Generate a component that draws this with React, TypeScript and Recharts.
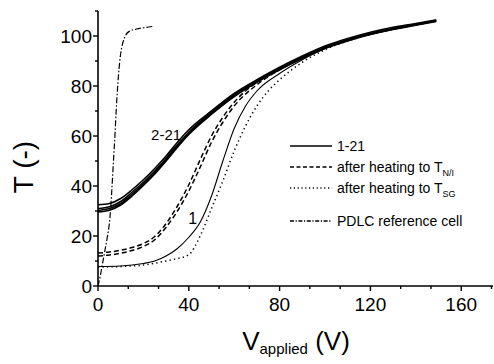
import { LineChart, Line, XAxis, YAxis, Legend, ReferenceDot } from "recharts";

const FONT = '"Liberation Sans", Arial, sans-serif';

// axis ticks
const X_MAJOR = [0, 40, 80, 120, 160];
const X_TICKS = [0, 13.33, 26.67, 40, 53.33, 66.67, 80, 93.33, 106.67, 120, 133.33, 146.67, 160, 173.33];
const Y_MAJOR = [0, 20, 40, 60, 80, 100];
const Y_TICKS = [0, 10, 20, 30, 40, 50, 60, 70, 80, 90, 100, 110];

// cycles 2-21 (bundle of curves)
const V_CYCLES = [0, 5, 10, 15, 20, 25, 30, 35, 40, 50, 60, 70, 80, 90, 100, 110, 120, 130, 140, 149];
const T_CYCLE_A = [32.5, 33, 35, 38.5, 42.5, 47, 52, 57.5, 62.5, 70, 77, 82.5, 87.5, 92, 96, 99, 101.5, 103.5, 105, 106.5];
const T_CYCLE_B = [31, 31.7, 33.8, 37.5, 41.5, 46, 51, 56.5, 61.5, 69.5, 76.5, 82, 87, 91.5, 95.5, 98.5, 101, 103, 104.7, 106.2];
const T_CYCLE_C = [30.2, 31, 33, 36.7, 40.8, 45.3, 50.5, 56, 61, 69, 76, 81.7, 86.7, 91.2, 95.2, 98.3, 100.8, 102.8, 104.5, 106];
const T_CYCLE_D = [29.6, 30.3, 32.4, 36, 40.2, 44.8, 50, 55.5, 60.6, 68.7, 75.8, 81.5, 86.5, 91, 95, 98, 100.6, 102.6, 104.3, 105.8];

// first cycle
const V_FIRST = [0, 10, 20, 25, 30, 35, 40, 45, 50, 55, 60, 65, 70, 80, 90, 100, 110, 120, 130, 140, 149];
const T_FIRST = [7.8, 8, 9, 10, 12, 15, 19.5, 25.5, 36, 50, 63, 72, 78, 85, 90.5, 95, 98.2, 100.8, 102.9, 104.6, 106];

// after heating to T_N/I (two runs)
const V_NI = [0, 5, 10, 15, 20, 25, 30, 35, 40, 45, 50, 55, 60, 70, 80, 90, 100, 110, 120, 130, 140, 149];
const T_NI_1 = [13.2, 13.6, 14.3, 15.4, 17, 19.8, 25, 32, 40.5, 50.5, 60, 67.5, 73.5, 81.5, 87, 91.5, 95.5, 98.5, 101, 103, 104.7, 106.2];
const T_NI_2 = [12, 12.4, 13.1, 14.2, 15.8, 18.5, 23.5, 30, 38, 47.5, 57.5, 65.5, 72, 80.5, 86.5, 91.2, 95.2, 98.3, 100.8, 102.8, 104.5, 106];

// after heating to T_SG
const V_SG = [0, 10, 20, 30, 35, 40, 45, 50, 55, 60, 65, 70, 75, 80, 90, 100, 110, 120, 130, 140, 149];
const T_SG = [7.6, 7.8, 8.4, 10, 11, 12.5, 20, 31, 42, 54, 64, 72, 78, 82.5, 89.5, 94.5, 98, 100.6, 102.7, 104.5, 106];

// PDLC reference cell
const V_PDLC = [0, 1, 2, 3, 4, 5, 5.5, 6, 6.5, 7, 7.5, 8, 9, 10, 11, 12, 14, 17, 20, 24];
const T_PDLC = [0, 4, 9, 14, 19, 25, 30, 37, 45, 53, 61, 70, 84, 93, 97.5, 100, 102, 102.8, 103.3, 103.8];

const toRows = (v: number[], t: number[]) => v.map((x, i) => ({ v: x, t: t[i] }));

const LEGEND_ROWS = [
  { text: "1-21", sub: "", dash: undefined as string | undefined, y: 16 },
  { text: "after heating to T", sub: "N/I", dash: "4 2.5", y: 37 },
  { text: "after heating to T", sub: "SG", dash: "1.2 2.6", y: 58 },
  { text: "PDLC reference cell", sub: "", dash: "4 1.6 1.2 1.6", y: 91 },
];

function YTick({ x, y, payload }: any) {
  const major = Y_MAJOR.includes(payload.value);
  return (
    <g>
      <line x1={x} x2={x - (major ? 5 : 3)} y1={y} y2={y} stroke="#000" strokeWidth={1.4} />
      {major && (
        <text x={x - 6} y={y + 7} textAnchor="end" fontSize={19} fontFamily={FONT} fill="#000">
          {payload.value}
        </text>
      )}
    </g>
  );
}

function XTick({ x, y, payload }: any) {
  const major = X_MAJOR.includes(payload.value);
  return (
    <g>
      <line x1={x} x2={x} y1={y} y2={y + (major ? 5 : 3)} stroke="#000" strokeWidth={1.4} />
      {major && (
        <text x={x} y={y + 25} textAnchor="middle" fontSize={19} fontFamily={FONT} fill="#000">
          {payload.value}
        </text>
      )}
    </g>
  );
}

function LegendBox() {
  return (
    <svg width={210} height={100} style={{ display: "block" }}>
      {LEGEND_ROWS.map((r, i) => (
        <g key={i}>
          <line x1={6} x2={48} y1={r.y} y2={r.y} stroke="#000" strokeWidth={1.3} strokeDasharray={r.dash} />
          <text x={53} y={r.y + 5} fontSize={14} fontFamily={FONT} fill="#000">
            {r.text}
            {r.sub && (
              <tspan fontSize={9} dy={4}>
                {r.sub}
              </tspan>
            )}
          </text>
        </g>
      ))}
    </svg>
  );
}

const YTitle = () => (
  <text
    x={23}
    y={167}
    transform="rotate(-90 23 167)"
    textAnchor="middle"
    dominantBaseline="central"
    fontSize={28}
    fontFamily={FONT}
    fill="#000"
  >
    T (-)
  </text>
);

const XTitle = () => (
  <text x={296} y={350} textAnchor="middle" fontSize={26} fontFamily={FONT} fill="#000">
    V
    <tspan fontSize={15} dy={4}>
      applied
    </tspan>
    <tspan dy={-4}> (V)</tspan>
  </text>
);

export default function App() {
  const thick = { stroke: "#000", strokeWidth: 1.6, dot: false, isAnimationActive: false, type: "monotone" as const, dataKey: "t" };
  return (
    <div style={{ position: "absolute", left: 0, top: 0, background: "#fff" }}>
      <LineChart width={494} height={364} margin={{ top: 11, right: 1, left: 0, bottom: 0 }}>
        <XAxis
          type="number"
          dataKey="v"
          domain={[0, 174]}
          ticks={X_TICKS}
          interval={0}
          allowDataOverflow
          height={78}
          tickSize={0}
          tickMargin={0}
          tick={<XTick />}
          axisLine={{ stroke: "#000", strokeWidth: 1.6 }}
          label={<XTitle />}
        />
        <YAxis
          type="number"
          domain={[0, 110]}
          ticks={Y_TICKS}
          interval={0}
          allowDataOverflow
          width={98}
          tickSize={0}
          tickMargin={0}
          tick={<YTick />}
          axisLine={{ stroke: "#000", strokeWidth: 1.6 }}
          label={<YTitle />}
        />
        <Legend
          layout="horizontal"
          verticalAlign="middle"
          align="center"
          content={<LegendBox />}
          wrapperStyle={{ left: 284, top: 130, width: 210, height: 100 }}
        />
        <Line {...thick} data={toRows(V_CYCLES, T_CYCLE_A)} />
        <Line {...thick} data={toRows(V_CYCLES, T_CYCLE_B)} />
        <Line {...thick} data={toRows(V_CYCLES, T_CYCLE_C)} />
        <Line {...thick} data={toRows(V_CYCLES, T_CYCLE_D)} />
        <Line {...thick} strokeWidth={1.1} data={toRows(V_FIRST, T_FIRST)} />
        <Line {...thick} strokeWidth={1.5} strokeDasharray="5 3" data={toRows(V_NI, T_NI_1)} />
        <Line {...thick} strokeWidth={1.5} strokeDasharray="5 3" data={toRows(V_NI, T_NI_2)} />
        <Line {...thick} strokeWidth={1.5} strokeDasharray="1.3 3.2" data={toRows(V_SG, T_SG)} />
        <Line {...thick} strokeWidth={1.2} strokeDasharray="6 2 1.5 2" data={toRows(V_PDLC, T_PDLC)} />
        <ReferenceDot
          x={30}
          y={60.4}
          r={0}
          label={{ value: "2-21", position: "center", fontSize: 15, fontFamily: FONT, fill: "#000" }}
        />
        <ReferenceDot
          x={41.7}
          y={27.2}
          r={0}
          label={{ value: "1", position: "center", fontSize: 16, fontFamily: FONT, fill: "#000" }}
        />
      </LineChart>
    </div>
  );
}
